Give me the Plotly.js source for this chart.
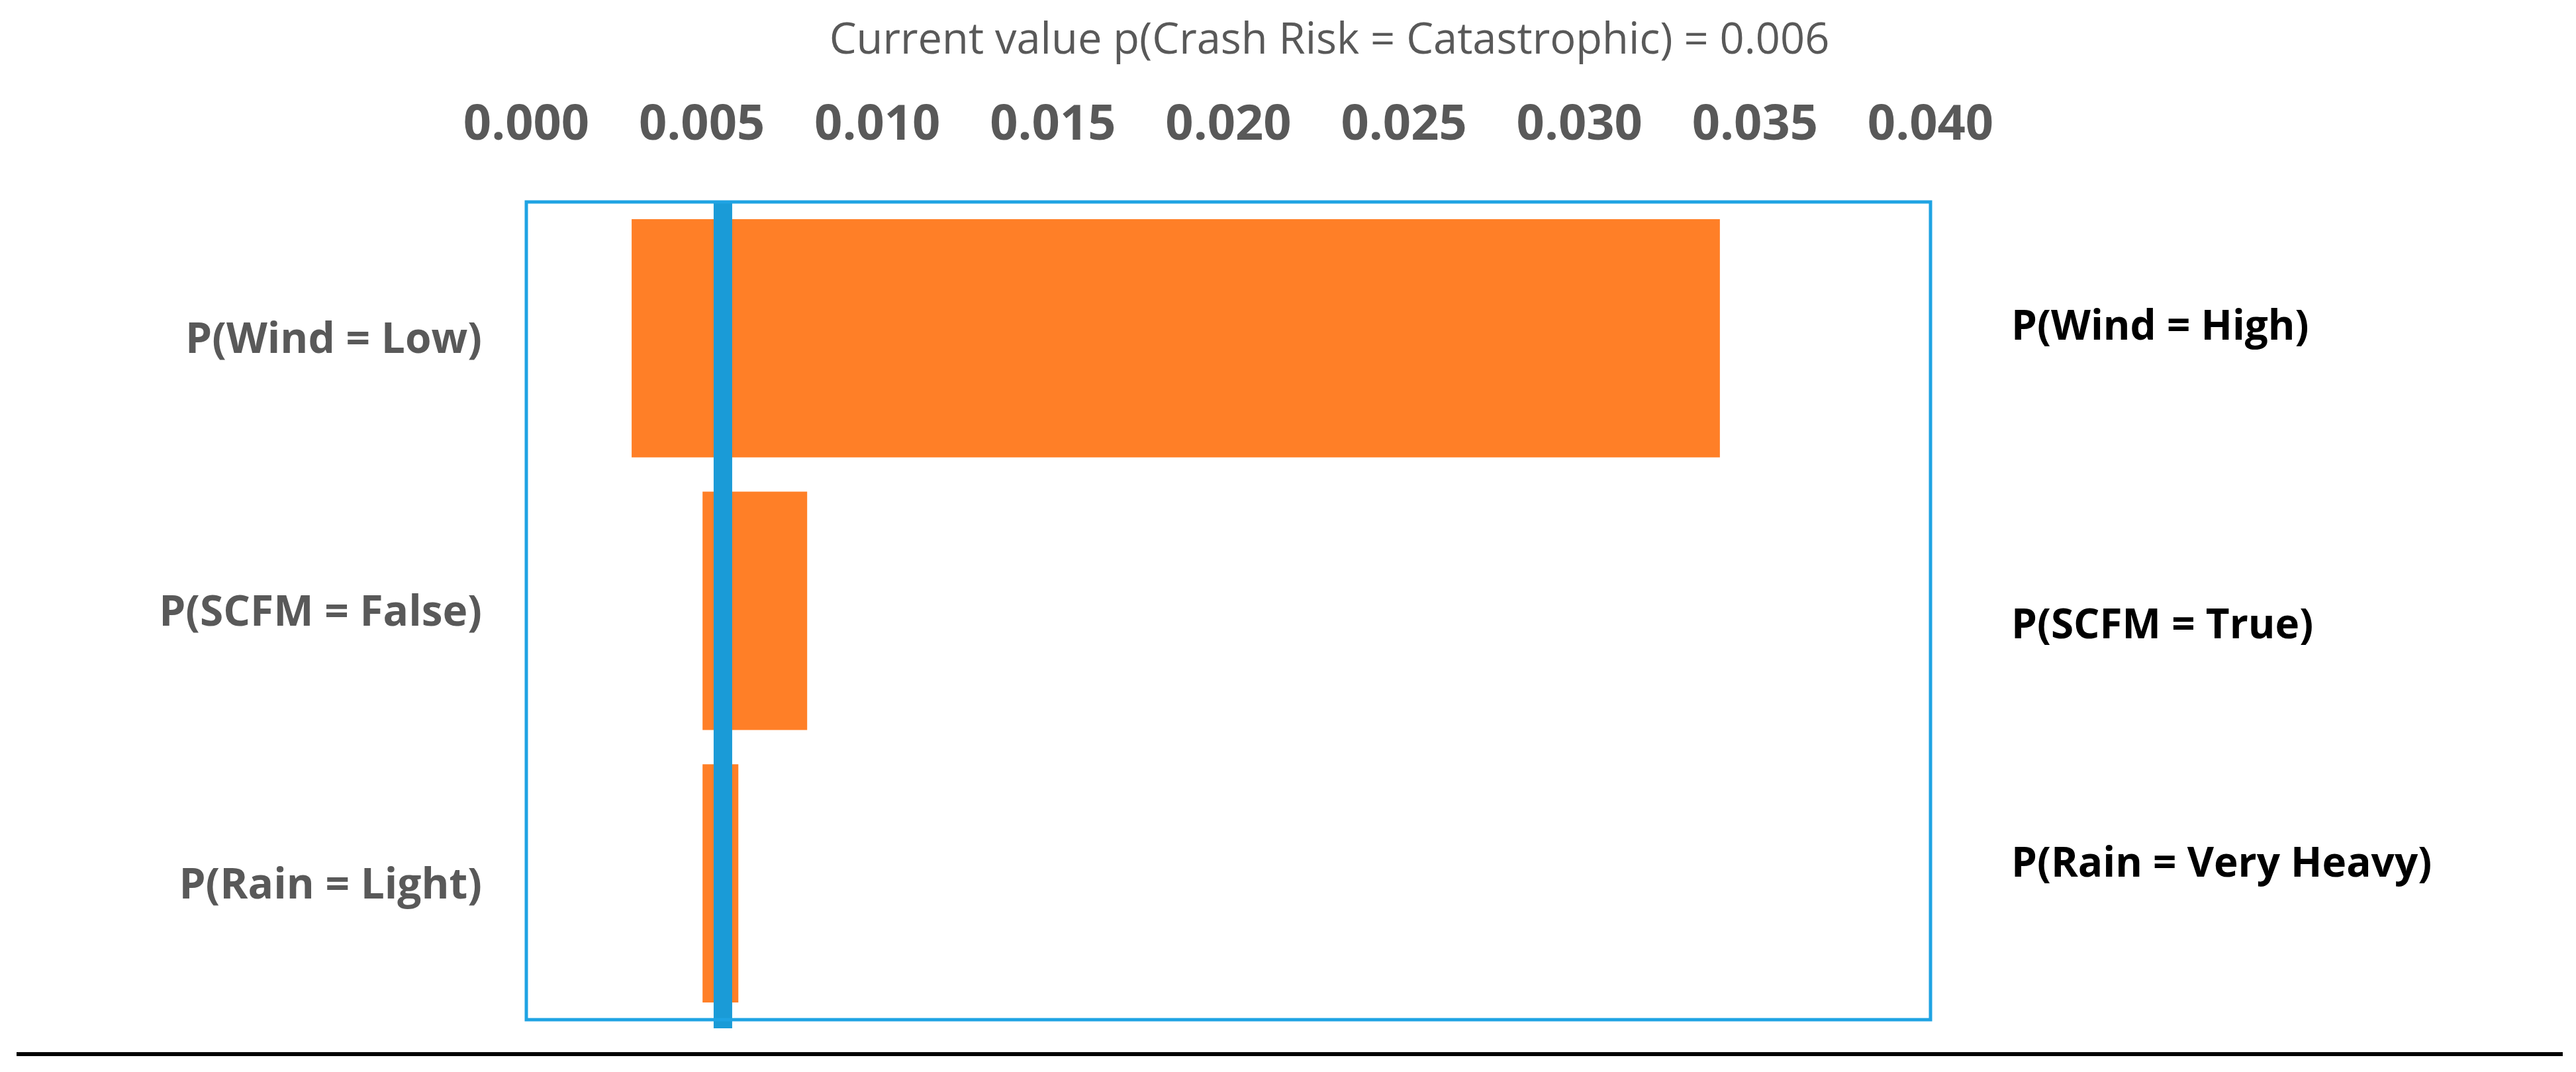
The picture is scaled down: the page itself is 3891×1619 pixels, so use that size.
<!DOCTYPE html>
<html>
<head>
<meta charset="utf-8">
<script src="https://cdn.plot.ly/plotly-3.0.1.min.js"></script>
<style>
  html, body { margin: 0; padding: 0; background: #ffffff; }
  #chart { width: 3891px; height: 1619px; }
</style>
</head>
<body>
<div id="chart"></div>
<script>
// ---- data ----
const leftLabels  = ["P(Wind = Low)", "P(SCFM = False)", "P(Rain = Light)"];
const rightLabels = ["P(Wind = High)", "P(SCFM = True)", "P(Rain = Very Heavy)"];
const lowValues   = [0.0030, 0.00502, 0.00502];
const highValues  = [0.0340, 0.0080, 0.00604];
const currentValue = 0.0056;
const titleText = "Current value p(Crash Risk = Catastrophic) = 0.006";
const tickValues = [0.000, 0.005, 0.010, 0.015, 0.020, 0.025, 0.030, 0.035, 0.040];

// ---- styling ----
const ORANGE = "#FF7F27";
const BLUE_LINE = "#1A9BD7";
const BOX = "#1FA3E3";
const GRAY = "#595959";
const FONT = "Open Sans, sans-serif";

const W = 3891, H = 1619;
const L = 795, R = W - 2916, T = 305, B = H - 1540;
const plotH = H - T - B;

const widths = highValues.map((h, i) => h - lowValues[i]);

const trace = {
  type: "bar",
  orientation: "h",
  y: leftLabels,
  x: widths,
  base: lowValues,
  width: 0.874,
  marker: { color: ORANGE, line: { width: 0 } },
  hoverinfo: "skip",
  showlegend: false
};

// right-side labels at their measured vertical positions (pixels from top)
const rightLabelPx = [489, 940, 1300];
const annotations = rightLabels.map((t, i) => ({
  text: t,
  xref: "paper", yref: "paper",
  x: (3036 - L) / (W - L - R),
  y: (1540 - rightLabelPx[i]) / plotH,
  xanchor: "left", yanchor: "middle",
  showarrow: false,
  font: { family: FONT, size: 62, color: "#000000", weight: 700 }
}));

const layout = {
  width: W, height: H,
  margin: { l: L, r: R, t: T, b: B, pad: 0 },
  paper_bgcolor: "#ffffff",
  plot_bgcolor: "#ffffff",
  title: {
    text: titleText,
    xref: "container", x: 2008 / W, xanchor: "center",
    yref: "container", y: 1 - 58 / H, yanchor: "middle",
    font: { family: FONT, size: 65, color: GRAY }
  },
  xaxis: {
    side: "top",
    range: [0, 0.04],
    tickvals: tickValues,
    tickformat: ".3f",
    showgrid: false, zeroline: false, showline: false,
    ticks: "", ticklabelstandoff: 78,
    tickfont: { family: FONT, size: 74, color: GRAY, weight: 700 },
    fixedrange: true
  },
  yaxis: {
    type: "category",
    categoryorder: "array",
    categoryarray: leftLabels,
    range: [2.5, -0.5],
    showgrid: false, zeroline: false, showline: false,
    ticks: "", ticklabelstandoff: 66,
    tickfont: { family: FONT, size: 64, color: GRAY, weight: 700 },
    fixedrange: true
  },
  shapes: [
    // current-value line
    {
      type: "line", layer: "above",
      xref: "x", yref: "paper",
      x0: currentValue, x1: currentValue,
      y0: -13 / plotH, y1: 1,
      line: { color: BLUE_LINE, width: 28 }
    },
    // plot frame
    {
      type: "rect", layer: "above",
      xref: "paper", yref: "paper",
      x0: 0, x1: 1, y0: 0, y1: 1,
      line: { color: BOX, width: 5 },
      fillcolor: "rgba(0,0,0,0)"
    },
    // bottom rule
    {
      type: "line", layer: "above",
      xref: "paper", yref: "paper",
      x0: (25 - L) / (W - L - R), x1: (3871 - L) / (W - L - R),
      y0: (1540 - 1592) / plotH, y1: (1540 - 1592) / plotH,
      line: { color: "#000000", width: 6 }
    }
  ],
  annotations: annotations,
  bargap: 0.126,
  showlegend: false
};

Plotly.newPlot("chart", [trace], layout, { displayModeBar: false, staticPlot: true });
</script>
</body>
</html>
